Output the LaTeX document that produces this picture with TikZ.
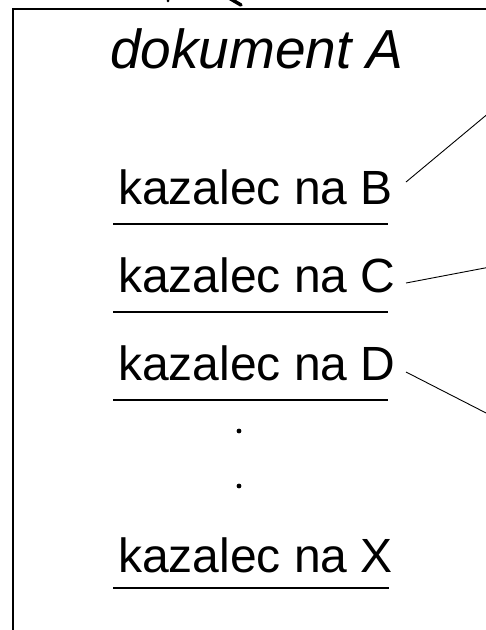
\documentclass[tikz,border=0pt]{standalone}
\usepackage{fontspec}
\setmainfont{Liberation Sans}
\begin{document}
\begin{tikzpicture}[x=1pt,y=-1pt,
  item/.style={anchor=base west, inner sep=0pt, font=\fontsize{48}{52}\selectfont},
  uline/.style={line width=1.6pt},
  ptr/.style={line width=0.9pt},
  frame/.style={line width=2pt}]
\useasboundingbox (0,0) rectangle (486,630);
\clip (0,0) rectangle (486,630);
% document frame (continues beyond the cropped picture)
\draw[frame] (13,8.5) rectangle (600,700);
% fragment above the frame
\fill (168,0.8) circle (1.5pt);
\draw[line width=3.5pt, line cap=round] (229,-2) -- (241,5);
% title
\node[anchor=base, inner sep=0pt, font=\itshape\fontsize{55}{60}\selectfont] (title) at (257,68) {dokument A};
% items
\node[item] (tb) at (118,204) {kazalec na B};
\node[item] (tc) at (118,292) {kazalec na C};
\node[item] (td) at (118,380) {kazalec na D};
\node[item] (tx) at (118,572) {kazalec na X};
% underlines
\draw[uline] (113,224) -- (388,224);
\draw[uline] (113,312) -- (388,312);
\draw[uline] (113,400) -- (388,400);
\draw[uline] (113,588) -- (389,588);
% dots
\fill (239,431) circle (2.4pt);
\fill (239,486) circle (2.4pt);
% pointer lines
\coordinate (bs) at (406,182);
\coordinate (be) at (490,112);
\coordinate (cs) at (406,283);
\coordinate (ce) at (490,267);
\coordinate (ds) at (406,372);
\coordinate (de) at (490,415);
\draw[ptr] (bs) -- (be);
\draw[ptr] (cs) -- (ce);
\draw[ptr] (ds) -- (de);
\end{tikzpicture}
\end{document}
